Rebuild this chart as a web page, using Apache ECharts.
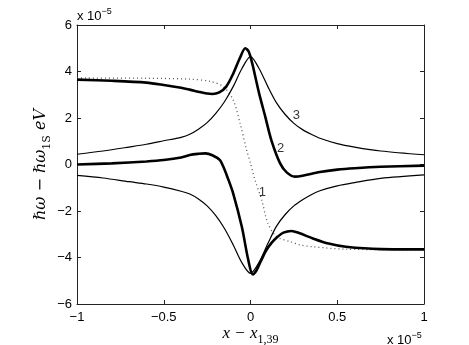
<!DOCTYPE html>
<html>
<head>
<meta charset="utf-8">
<script src="https://cdn.jsdelivr.net/npm/echarts@6/dist/echarts.min.js"></script>
<style>
  html, body { margin: 0; padding: 0; background: #fff; }
  #chart { width: 469px; height: 345px; }
</style>
</head>
<body>
<div id="chart"></div>
<script>
  // all values in units of 1e-5
  const xTicks = [-1, -0.5, 0, 0.5, 1];
  const yTicks = [-6, -4, -2, 0, 2, 4, 6];

  // curve 3 (thin), upper and lower branch
  const xThin = [-1, -0.85, -0.7, -0.6, -0.5, -0.4, -0.35, -0.3, -0.25, -0.2, -0.15, -0.1, -0.05, 0, 0.05, 0.1, 0.15, 0.2, 0.25, 0.3, 0.35, 0.4, 0.5, 0.6, 0.75, 1];
  const thinUp = [0.44, 0.58, 0.75, 0.87, 1.02, 1.17, 1.3, 1.52, 1.8, 2.2, 2.7, 3.35, 4.12, 4.64, 4.12, 3.35, 2.65, 2.15, 1.77, 1.5, 1.3, 1.13, 0.9, 0.75, 0.58, 0.42];
  const thinDown = [-0.47, -0.58, -0.74, -0.84, -0.97, -1.15, -1.27, -1.48, -1.78, -2.2, -2.75, -3.45, -4.22, -4.68, -4.2, -3.4, -2.65, -2.15, -1.78, -1.52, -1.3, -1.13, -0.92, -0.78, -0.6, -0.45];

  // curve 2 (thick), upper branch
  const xThickUp = [-1, -0.8, -0.6, -0.5, -0.4, -0.35, -0.3, -0.25, -0.22, -0.18, -0.14, -0.1, -0.06, -0.03, -0.01, 0.01, 0.03, 0.05, 0.085, 0.12, 0.17, 0.21, 0.256, 0.3, 0.4, 0.5, 0.6, 0.75, 1];
  const thickUp = [3.65, 3.6, 3.52, 3.42, 3.3, 3.22, 3.13, 3.05, 3.03, 3.1, 3.35, 3.9, 4.6, 5.0, 4.85, 4.35, 3.7, 3.05, 2.06, 1.05, 0.06, -0.35, -0.52, -0.48, -0.32, -0.22, -0.16, -0.1, -0.05];

  // curve 2 (thick), lower branch
  const xThickDown = [-1, -0.8, -0.6, -0.5, -0.4, -0.35, -0.3, -0.26, -0.22, -0.176, -0.157, -0.13, -0.1, -0.05, -0.013, 0.013, 0.035, 0.06, 0.09, 0.12, 0.15, 0.19, 0.237, 0.28, 0.36, 0.45, 0.55, 0.75, 1];
  const thickDown = [0.0, 0.05, 0.13, 0.19, 0.3, 0.41, 0.46, 0.48, 0.4, 0.19, -0.09, -0.6, -1.24, -2.68, -4.1, -4.73, -4.55, -4.15, -3.7, -3.38, -3.15, -2.93, -2.86, -2.95, -3.18, -3.4, -3.54, -3.64, -3.65];

  // curve 1 (dotted)
  const xDot = [-1, -0.6, -0.35, -0.23, -0.157, -0.1, -0.06, -0.022, 0, 0.026, 0.065, 0.1, 0.15, 0.23, 0.285, 0.36, 0.55, 1];
  const dotVals = [3.72, 3.71, 3.67, 3.57, 3.35, 2.78, 1.77, 0.62, 0.05, -0.67, -1.53, -2.53, -3.1, -3.32, -3.46, -3.54, -3.64, -3.67];

  // curve number labels
  const labelX = [0.264, 0.174, 0.068];
  const labelY = [2.13, 0.70, -1.21];
  const labelText = ['3', '2', '1'];

  const pairs = (xs, ys) => xs.map((x, i) => [x, ys[i]]);
  const minus = (v) => String(v).replace('-', '\u2212');

  const tickFont = { fontFamily: 'Liberation Sans', fontSize: 13, color: '#000' };
  const lineAxis = { onZero: false, lineStyle: { color: '#222', width: 1 } };
  const tick = { show: true, inside: true, length: 4, lineStyle: { color: '#222' } };

  const chart = echarts.init(document.getElementById('chart'));

  const expo = {
    text: '{a|x 10}{b|\u22125}',
    rich: {
      a: { fontFamily: 'Liberation Sans', fontSize: 13, fill: '#000', verticalAlign: 'bottom' },
      b: { fontFamily: 'Liberation Sans', fontSize: 9, fill: '#000', verticalAlign: 'bottom', padding: [0, 0, 7, 0] }
    }
  };

  const option = {
    animation: false,
    backgroundColor: '#fff',
    grid: { left: 77, right: 45, top: 25, bottom: 41, containLabel: false, outerBoundsMode: 'none' },
    xAxis: [
      {
        type: 'value', min: -1, max: 1, interval: 0.5, position: 'bottom',
        axisLine: lineAxis, axisTick: tick, splitLine: { show: false },
        axisLabel: { ...tickFont, margin: 7, formatter: minus },
        name: '{i|x \u2212 x}{s|1,39}',
        nameLocation: 'middle', nameGap: 21, nameMoveOverlap: false,
        nameTextStyle: {
          rich: {
            i: { fontFamily: 'Liberation Serif', fontStyle: 'italic', fontSize: 17, color: '#000', verticalAlign: 'bottom', padding: [0, 0, 4, 0] },
            s: { fontFamily: 'Liberation Serif', fontSize: 12, color: '#000', verticalAlign: 'bottom' }
          }
        }
      },
      {
        type: 'value', min: -1, max: 1, interval: 0.5, position: 'top',
        axisLine: lineAxis, axisTick: tick, splitLine: { show: false },
        axisLabel: { show: false }
      }
    ],
    yAxis: [
      {
        type: 'value', min: -6, max: 6, interval: 2, position: 'left',
        axisLine: lineAxis, axisTick: tick, splitLine: { show: false },
        axisLabel: { ...tickFont, margin: 5, formatter: minus },
        name: '{i|\u210Fω \u2212 \u210Fω}{s|1S}{i| eV}',
        nameLocation: 'middle', nameGap: 24, nameRotate: 90, nameMoveOverlap: false,
        nameTextStyle: {
          rich: {
            i: { fontFamily: 'DejaVu Serif', fontStyle: 'italic', fontSize: 16, color: '#000', verticalAlign: 'bottom', padding: [0, 0, 4, 0] },
            s: { fontFamily: 'DejaVu Serif', fontSize: 11, color: '#000', verticalAlign: 'bottom' }
          }
        }
      },
      {
        type: 'value', min: -6, max: 6, interval: 2, position: 'right',
        axisLine: lineAxis, axisTick: tick, splitLine: { show: false },
        axisLabel: { show: false }
      }
    ],
    graphic: [
      { type: 'text', left: 77, top: 7, style: expo },
      { type: 'text', left: 387, top: 331, style: expo }
    ],
    series: [
      {
        type: 'line', data: pairs(xDot, dotVals), smooth: 0.3, symbol: 'none',
        lineStyle: { color: '#555', width: 1.3, type: [1, 3] }
      },
      {
        type: 'line', data: pairs(xThin, thinUp), smooth: 0.3, symbol: 'none',
        lineStyle: { color: '#000', width: 1.2 }
      },
      {
        type: 'line', data: pairs(xThin, thinDown), smooth: 0.3, symbol: 'none',
        lineStyle: { color: '#000', width: 1.2 }
      },
      {
        type: 'line', data: pairs(xThickUp, thickUp), smooth: 0.3, symbol: 'none',
        lineStyle: { color: '#000', width: 2.6 }
      },
      {
        type: 'line', data: pairs(xThickDown, thickDown), smooth: 0.3, symbol: 'none',
        lineStyle: { color: '#000', width: 2.6 }
      },
      {
        type: 'scatter', symbolSize: 0,
        data: labelX.map((x, i) => ({ value: [x, labelY[i]], name: labelText[i] })),
        label: {
          show: true, position: 'inside', formatter: (p) => p.name,
          fontFamily: 'Liberation Sans', fontSize: 13, color: '#000'
        }
      }
    ]
  };

  chart.setOption(option);
</script>
</body>
</html>
